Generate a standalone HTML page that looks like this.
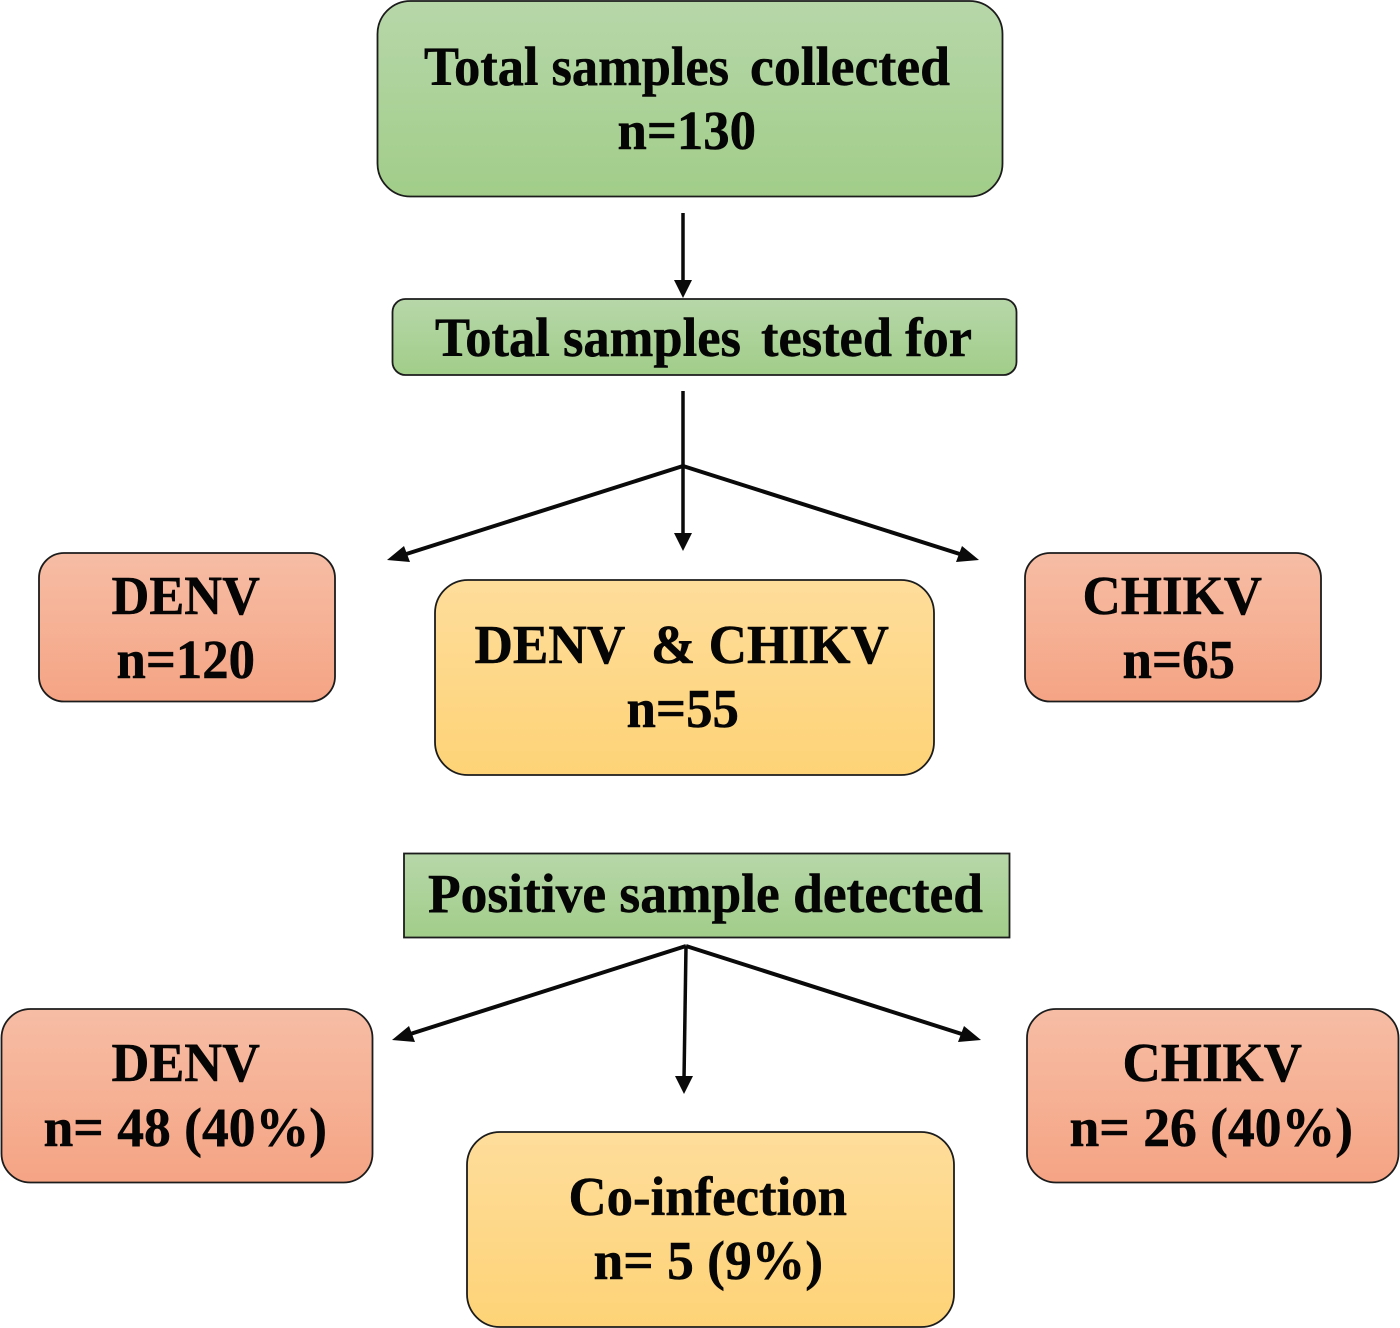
<!DOCTYPE html>
<html><head><meta charset="utf-8"><style>
html,body{margin:0;padding:0;background:#fff}
svg{display:block}
text{font-family:"Liberation Serif",serif;font-weight:bold;font-size:55px;fill:#050505;stroke:#050505;stroke-width:.5;white-space:pre}
</style></head><body>
<svg width="1400" height="1328" viewBox="0 0 1400 1328" xmlns="http://www.w3.org/2000/svg">
<defs>
<linearGradient id="g" x1="0" y1="0" x2="0" y2="1"><stop offset="0" stop-color="#b7d7a9"/><stop offset="1" stop-color="#a1cd89"/></linearGradient>
<linearGradient id="r" x1="0" y1="0" x2="0" y2="1"><stop offset="0" stop-color="#f6bda5"/><stop offset="1" stop-color="#f5a484"/></linearGradient>
<linearGradient id="y" x1="0" y1="0" x2="0" y2="1"><stop offset="0" stop-color="#fedd9b"/><stop offset="1" stop-color="#fed377"/></linearGradient>
</defs>
<g stroke="#1c1c1c" stroke-width="1.8">
<rect x="377.500" y="1" width="625" height="195.500" rx="33" fill="url(#g)"/>
<rect x="392.500" y="299" width="624" height="76" rx="13" fill="url(#g)"/>
<rect x="39" y="553" width="296" height="148.500" rx="25" fill="url(#r)"/>
<rect x="1025" y="553" width="296" height="148.500" rx="25" fill="url(#r)"/>
<rect x="435" y="580" width="499" height="195" rx="33" fill="url(#y)"/>
<rect x="404" y="853.500" width="605.500" height="84" fill="url(#g)"/>
<rect x="1.500" y="1009" width="371" height="173.500" rx="29" fill="url(#r)"/>
<rect x="1027" y="1009" width="371.500" height="173.500" rx="29" fill="url(#r)"/>
<rect x="467" y="1132" width="487" height="195" rx="33" fill="url(#y)"/>
</g>
<g stroke="#0a0a0a" fill="none">
<path stroke-width="3.500" d="M683 213V284"/>
<path stroke-width="3.500" d="M683 391V538"/>
<path stroke-width="4" d="M683 466L400 556"/>
<path stroke-width="4" d="M683 466L966 556"/>
<path stroke-width="4" d="M686 946L404 1036"/>
<path stroke-width="4" d="M686 946L968 1036"/>
<path stroke-width="3.500" d="M686 946L684 1080"/>
</g>
<g fill="#0a0a0a">
<path d="M674 280H692L683 298Z"/>
<path d="M674 533H692L683 551Z"/>
<path d="M675 1076H693L684 1094Z"/>
<path d="M387 560L404 546L410 562Z"/>
<path d="M979 560L962 546L956 562Z"/>
<path d="M392 1040L409 1026L415 1042Z"/>
<path d="M981 1040L964 1026L958 1042Z"/>
</g>
<text x="424" y="85" textLength="305" lengthAdjust="spacingAndGlyphs">Total samples</text>
<text x="750" y="85" textLength="200" lengthAdjust="spacingAndGlyphs">collected</text>
<text x="617.500" y="149" textLength="138.500" lengthAdjust="spacingAndGlyphs">n=130</text>
<text x="435" y="356" textLength="306" lengthAdjust="spacingAndGlyphs">Total samples</text>
<text x="761" y="356" textLength="211" lengthAdjust="spacingAndGlyphs">tested for</text>
<text x="111.500" y="614" textLength="148.500" lengthAdjust="spacingAndGlyphs">DENV</text>
<text x="116.500" y="678" textLength="138.500" lengthAdjust="spacingAndGlyphs">n=120</text>
<text x="1082.500" y="614" textLength="179.500" lengthAdjust="spacingAndGlyphs">CHIKV</text>
<text x="1122.500" y="678" textLength="112.500" lengthAdjust="spacingAndGlyphs">n=65</text>
<text x="474.500" y="663" textLength="414.500" lengthAdjust="spacingAndGlyphs">DENV  &amp; CHIKV</text>
<text x="626.500" y="727" textLength="112.500" lengthAdjust="spacingAndGlyphs">n=55</text>
<text x="428" y="912" textLength="555" lengthAdjust="spacingAndGlyphs">Positive sample detected</text>
<text x="111.500" y="1081" textLength="148.500" lengthAdjust="spacingAndGlyphs">DENV</text>
<text x="43.500" y="1146" textLength="283.500" lengthAdjust="spacingAndGlyphs">n= 48 (40%)</text>
<text x="1122.500" y="1081" textLength="179.500" lengthAdjust="spacingAndGlyphs">CHIKV</text>
<text x="1069.500" y="1146" textLength="283.500" lengthAdjust="spacingAndGlyphs">n= 26 (40%)</text>
<text x="568.500" y="1215" textLength="278.500" lengthAdjust="spacingAndGlyphs">Co-infection</text>
<text x="593.500" y="1279" textLength="229.500" lengthAdjust="spacingAndGlyphs">n= 5 (9%)</text>
</svg>
</body></html>
